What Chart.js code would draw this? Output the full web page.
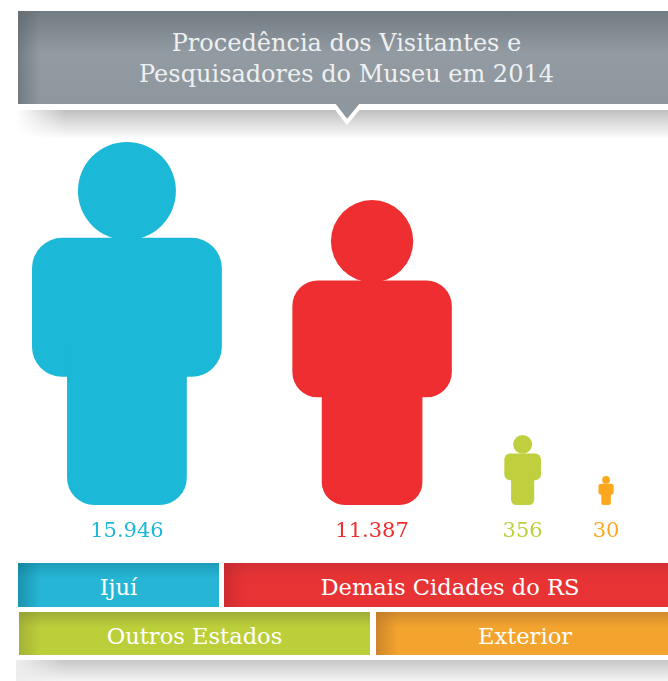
<!DOCTYPE html>
<html lang="pt">
<head>
<meta charset="utf-8">
<title>Procedência dos Visitantes</title>
<script src="https://cdn.jsdelivr.net/npm/chart.js@4"></script>
<style>
    html, body { margin: 0; padding: 0; background: #fff; }
    #page { position: relative; width: 668px; height: 681px; overflow: hidden; font-family: "DejaVu Serif", serif; }
    #chart { position: absolute; left: 0; top: 0; }

    /* cabeçalho */
    #header {
        position: absolute; left: 18px; top: 11px; width: 650px; height: 93px;
        background: linear-gradient(to right, rgba(90,98,105,.55), rgba(90,98,105,0) 22px),
                    linear-gradient(to bottom, #737b82, #929ba1 45%, #8e979d);
        color: #eef0f1; text-align: center; font-size: 24px; line-height: 31px;
        padding: 17px 0 0 7px; box-sizing: border-box;
    }
    #notch { position: absolute; left: 329px; top: 103px; }
    .band { position: absolute; left: 16px; width: 652px; }
    #band-top { top: 110px; height: 28px; background: linear-gradient(to right, #fff, rgba(255,255,255,0) 50px), linear-gradient(to bottom, #bfbfbf, #fdfdfd); }
    #band-bottom { top: 660px; height: 21px; background: linear-gradient(to right, #eee, rgba(255,255,255,0) 50px), linear-gradient(to bottom, #c6c6c6, #f4f4f4); }

    /* legenda */
    .chip {
        position: absolute; color: #fff; text-align: center; font-size: 22.6px; line-height: 49px;
        box-sizing: border-box;
    }
</style>
</head>
<body>
<div id="page">
    <div class="band" id="band-top"></div>
    <div class="band" id="band-bottom"></div>
    <div id="header">Procedência dos Visitantes e<br>Pesquisadores do Museu em 2014</div>
    <svg id="notch" width="36" height="22">
        <polygon points="5,0 18,17 32,0" fill="#8e979d" stroke="none"/>
        <polyline points="5,2 18,19 32,2" fill="none" stroke="#fff" stroke-width="4"/>
    </svg>
    <canvas id="chart" width="668" height="681"></canvas>
    <div id="legend"></div>
</div>

<script>
// dados
const categorias = ["Ijuí", "Demais Cidades do RS", "Outros Estados", "Exterior"];
const visitantes = [15946, 11387, 356, 30];
// tamanho de cada boneco em % do maior (não é proporcional ao valor no original)
const tamanhoFigura = [100, 84, 19.3, 8];
const cores = ["#1cb8d8", "#ee2e30", "#bfcf3e", "#fba81f"];

// layout
const alturaMaior = 363;
const proporcaoLargura = 0.523;
const margemEsquerda = 32;
const espacos = [70.5, 52.5, 57.5];

// legenda (posição e gradiente de cada faixa)
const faixas = [
    { left: 18, top: 563, width: 201, height: 44, recuo: 0, de: "#1a9cb8", para: "#27b5d5", sombra: "rgba(15,110,135,.5)" },
    { left: 224, top: 563, width: 444, height: 44, recuo: 8, de: "#d33035", para: "#e83335", sombra: "rgba(170,35,40,.4)" },
    { left: 19, top: 612, width: 351, height: 43, recuo: 0, de: "#a0ad38", para: "#bccf3a", sombra: "rgba(140,150,50,.5)" },
    { left: 376, top: 612, width: 292, height: 43, recuo: 6, de: "#d08a2c", para: "#f2a42e", sombra: "rgba(190,120,40,.7)" }
];

function renderLegend() {
    const legendEl = document.getElementById("legend");
    categorias.forEach((nome, i) => {
        const f = faixas[i];
        const chip = document.createElement("div");
        chip.className = "chip";
        chip.textContent = nome;
        chip.style.cssText = `left:${f.left}px;top:${f.top}px;width:${f.width}px;height:${f.height}px;` +
            `padding-left:${f.recuo}px;` +
            `background:linear-gradient(to right, ${f.sombra}, rgba(255,255,255,0) 22px),` +
            `linear-gradient(to bottom, ${f.de}, ${f.para} 35%);`;
        legendEl.appendChild(chip);
    });
}

// centro de cada coluna no eixo x, a partir da largura dos bonecos
function larguraFigura(tamanho) {
    return tamanho / 100 * alturaMaior * proporcaoLargura;
}
function centrosColunas() {
    let direita = margemEsquerda;
    return tamanhoFigura.map((t, i) => {
        const w = larguraFigura(t);
        const centro = direita + w / 2;
        direita += w + (espacos[i] || 0);
        return centro;
    });
}

// desenha o boneco em cima da posição de cada barra
function desenhaBoneco(ctx, x, topo, base, cor) {
    const h = base - topo;
    const larg = h * proporcaoLargura;
    const pernas = h * 0.33;
    const corpoTopo = topo + h * 0.264;
    const corpoBase = topo + h * 0.647;
    const raio = h * 0.083;

    ctx.fillStyle = cor;
    ctx.beginPath();
    ctx.arc(x, topo + h * 0.135, h * 0.135, 0, Math.PI * 2);
    ctx.fill();

    ctx.beginPath();
    ctx.roundRect(x - larg / 2, corpoTopo, larg, corpoBase - corpoTopo, raio);
    ctx.fill();

    ctx.beginPath();
    ctx.roundRect(x - pernas / 2, corpoBase - raio * 2, pernas, base - corpoBase + raio * 2, h * 0.075);
    ctx.fill();
}

const bonecosPlugin = {
    id: "bonecos",
    afterDatasetsDraw(chart) {
        const ctx = chart.ctx;
        const meta = chart.getDatasetMeta(0);
        ctx.save();
        meta.data.forEach((bar, i) => {
            desenhaBoneco(ctx, bar.x, bar.y, bar.base, cores[i]);

            ctx.fillStyle = cores[i];
            ctx.font = '21px "DejaVu Serif", serif';
            ctx.textAlign = "center";
            ctx.textBaseline = "middle";
            const texto = String(visitantes[i]).replace(/\B(?=(\d{3})+$)/g, ".");
            ctx.fillText(texto, bar.x, bar.base + 27);
        });
        ctx.restore();
    }
};

document.addEventListener("DOMContentLoaded", () => {
    renderLegend();

    const centros = centrosColunas();
    new Chart(document.getElementById("chart"), {
        type: "bar",
        data: {
            datasets: [{
                label: "Visitantes",
                data: tamanhoFigura.map((t, i) => ({ x: centros[i], y: t })),
                backgroundColor: "transparent"
            }]
        },
        options: {
            responsive: false,
            animation: false,
            layout: { padding: { top: 142, bottom: 176, left: 0, right: 0 } },
            plugins: { legend: { display: false }, tooltip: { enabled: false } },
            scales: {
                x: { type: "linear", min: 0, max: 668, offset: false, display: false },
                y: { min: 0, max: 100, display: false }
            }
        },
        plugins: [bonecosPlugin]
    });
});
</script>
</body>
</html>
